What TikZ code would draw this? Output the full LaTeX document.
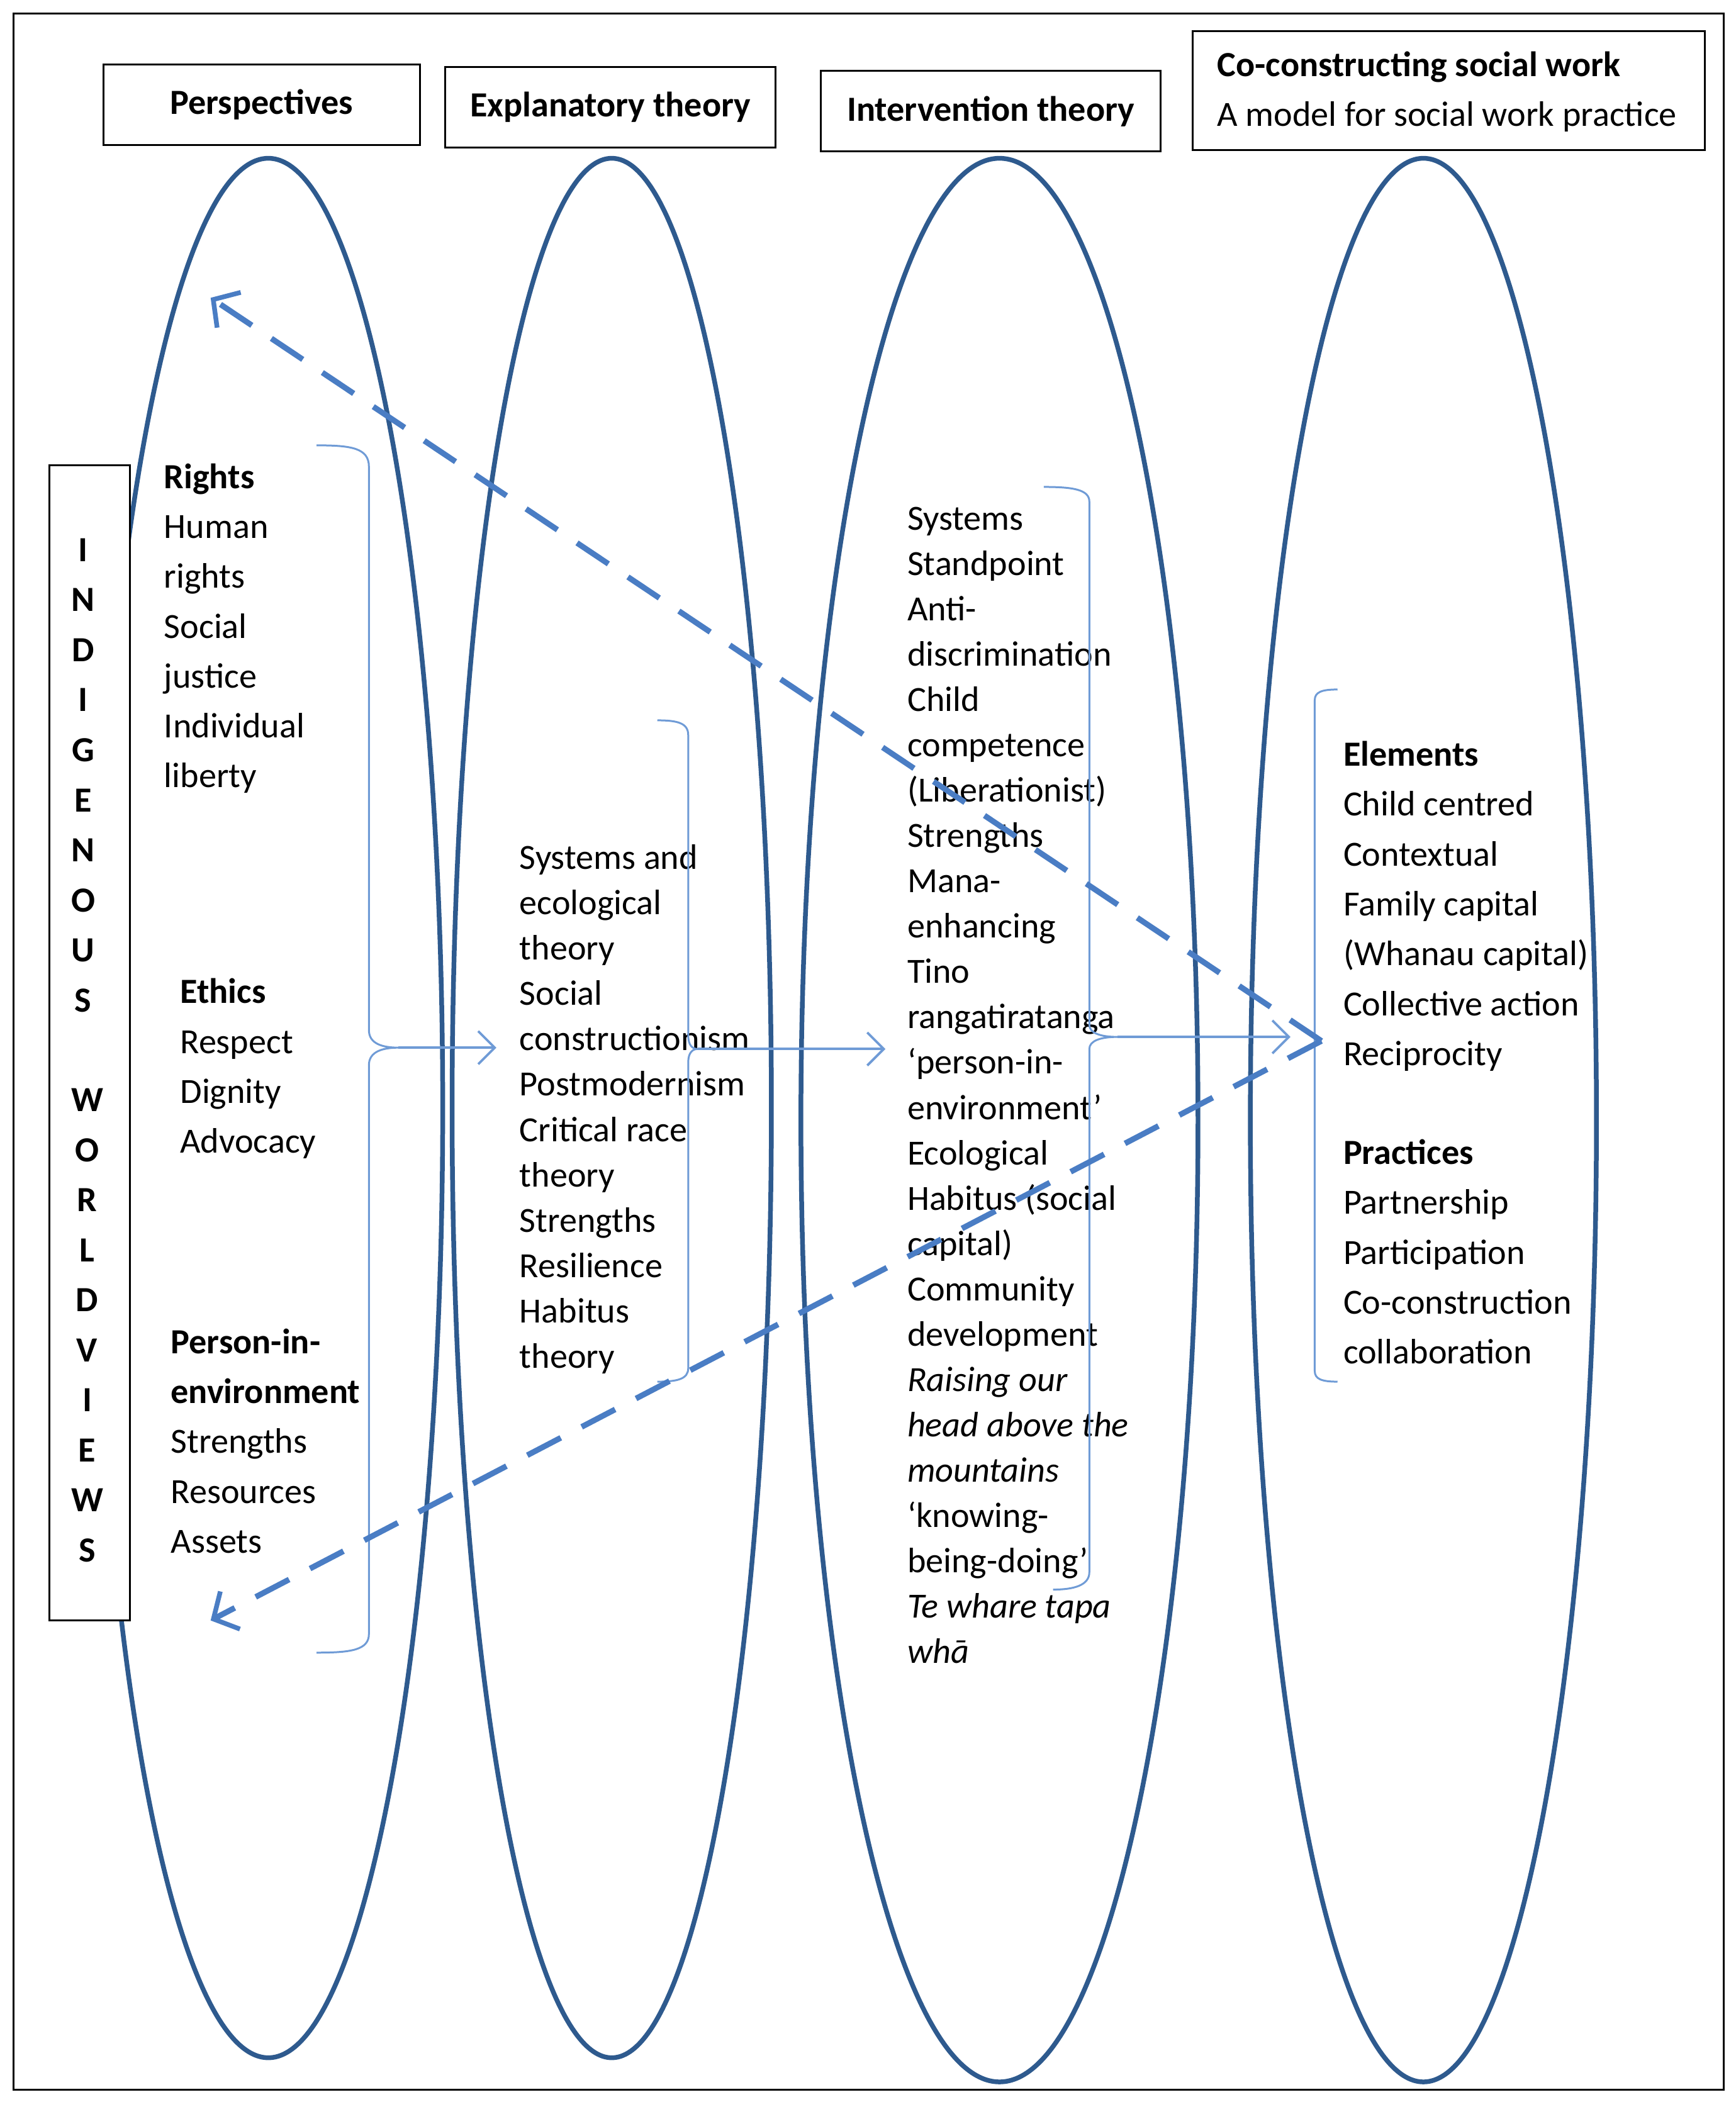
\documentclass[tikz,border=0pt]{standalone}
\usepackage{fontspec}
\setmainfont{Carlito}
\usetikzlibrary{arrows.meta}
\definecolor{ell}{HTML}{2E5A8E}
\definecolor{brc}{HTML}{6F9BD6}
\definecolor{dsh}{HTML}{4A7DC4}
\begin{document}
\begin{tikzpicture}[x=0.02cm,y=-0.02cm,
  every node/.style={font=\fontsize{15}{19}\selectfont,inner sep=0pt},
  ell/.style={draw=ell,line width=2pt},
  brace/.style={draw=brc,line width=0.8pt},
  solidarr/.style={draw=brc,line width=1pt,-{Straight Barb[length=7pt,width=14pt,line width=1pt]}},
  dasharr/.style={draw=dsh,line width=2.4pt,dash pattern=on 16pt off 10pt,-{Straight Barb[length=8pt,width=18pt,line width=2pt]}},
  title/.style={draw=black,line width=0.8pt,font=\fontsize{15}{19}\selectfont\bfseries},
  line/.style={anchor=base west}]
\useasboundingbox (0,0) rectangle (1294,1567);
\draw[line width=0.8pt] (10,10) rectangle (1285,1558);
% titles
\node[title,minimum width=236*0.02cm,minimum height=60*0.02cm] (t1) at (195,78) {Perspectives};
\node[title,minimum width=246*0.02cm,minimum height=60*0.02cm] (t2) at (455,80) {Explanatory theory};
\node[title,minimum width=253*0.02cm,minimum height=60*0.02cm] (t3) at (738.5,83) {Intervention theory};
\node[draw=black,line width=0.8pt,minimum width=382*0.02cm,minimum height=89*0.02cm] (t4) at (1080,67.5) {};
\node[line,font=\fontsize{15}{19}\selectfont\bfseries] (t4a) at (907,57) {Co-constructing social work};
\node[line] (t4b) at (907,94) {A model for social work practice};
% ellipses
\draw[ell] (200,826) ellipse [x radius=130,y radius=708];
\draw[ell] (456,826) ellipse [x radius=119,y radius=708];
\draw[ell] (745,835) ellipse [x radius=148,y radius=717];
\draw[ell] (1061,835) ellipse [x radius=129,y radius=717];
% indigenous worldviews box
\node[draw=black,fill=white,line width=0.8pt,minimum width=60*0.02cm,minimum height=861*0.02cm] (iw) at (67,777.5) {};
\foreach \c [count=\i] in {I,N,D,I,G,E,N,O,U,S} \node[font=\fontsize{15}{19}\selectfont\bfseries] (iwa\i) at ({62},{410+(\i-1)*37.3}) {\c};
\foreach \c [count=\i] in {W,O,R,L,D,V,I,E,W,S} \node[font=\fontsize{15}{19}\selectfont\bfseries] (iwb\i) at ({65},{820+(\i-1)*37.3}) {\c};
% text column 1
\foreach \t [count=\i] in {{\bfseries Rights},Human,rights,Social,justice,Individual,liberty}
  \node[line] (ra\i) at ({122},{364+(\i-1)*37.2}) {\t};
\foreach \t [count=\i] in {{\bfseries Ethics},Respect,Dignity,Advocacy}
  \node[line] (ea\i) at ({134},{748+(\i-1)*37.2}) {\t};
\foreach \t [count=\i] in {{\bfseries Person-in-},{\bfseries environment},Strengths,Resources,Assets}
  \node[line] (pa\i) at ({127},{1009+(\i-1)*37.2}) {\t};
% column 2
\foreach \t [count=\i] in {Systems and,ecological,theory,Social,constructionism,Postmodernism,Critical race,theory,Strengths,Resilience,Habitus,theory}
  \node[line] (xa\i) at ({387},{648+(\i-1)*33.8}) {\t};
% column 3
\foreach \t [count=\i] in {Systems,Standpoint,Anti-,discrimination,Child,competence,(Liberationist),Strengths,Mana-,enhancing,Tino,rangatiratanga,‘person-in-,environment’,Ecological,Habitus (social,capital),Community,development,{\itshape Raising our},{\itshape head above the},{\itshape mountains},‘knowing-,being-doing’,{\itshape Te whare tapa},{\itshape whā}}
  \node[line] (ia\i) at ({676},{395+(\i-1)*33.8}) {\t};
% column 4
\foreach \t [count=\i] in {{\bfseries Elements},Child centred,Contextual,Family capital,(Whanau capital),Collective action,Reciprocity}
  \node[line] (ca\i) at ({1001},{571+(\i-1)*37.2}) {\t};
\foreach \t [count=\i] in {{\bfseries Practices},Partnership,Participation,Co-construction,collaboration}
  \node[line] (cb\i) at ({1001},{868+(\i-1)*37.2}) {\t};
% brace tips and arrow targets
\coordinate (b1) at (297,781); \coordinate (a1) at (370,781);
\coordinate (b2) at (520,782); \coordinate (a2) at (660,782);
\coordinate (b3) at (833,773); \coordinate (a3) at (962,773);
\coordinate (d0) at (985,776); \coordinate (dt) at (157,222); \coordinate (db) at (157,1208);
% braces
\draw[brace] (236,332) .. controls (262,332) and (275,334) .. (275,348) -- (275,768) .. controls (275,778) and (285,781) .. (b1) .. controls (285,781) and (275,784) .. (275,794) -- (275,1218) .. controls (275,1230) and (262,1232) .. (236,1232);
\draw[brace] (490,537) .. controls (505,537) and (513,539) .. (513,548) -- (513,772) .. controls (513,779) and (516,782) .. (b2) .. controls (516,782) and (513,785) .. (513,792) -- (513,1020) .. controls (513,1028) and (505,1030) .. (490,1030);
\draw[brace] (778,363) .. controls (800,363) and (812,365) .. (812,374) -- (812,764) .. controls (812,770) and (820,773) .. (b3) .. controls (820,773) and (812,776) .. (812,782) -- (812,1172) .. controls (812,1182) and (800,1185) .. (785,1185);
\draw[brace] (997,514) .. controls (985,514) and (980,516) .. (980,522) -- (980,1022) .. controls (980,1028) and (985,1030) .. (997,1030);
% solid arrows
\draw[solidarr] (b1) -- (a1);
\draw[solidarr] (b2) -- (a2);
\draw[solidarr] (b3) -- (a3);
% dashed arrows
\draw[dasharr] (d0) -- (dt);
\draw[dasharr] (d0) -- (db);
\end{tikzpicture}
\end{document}
